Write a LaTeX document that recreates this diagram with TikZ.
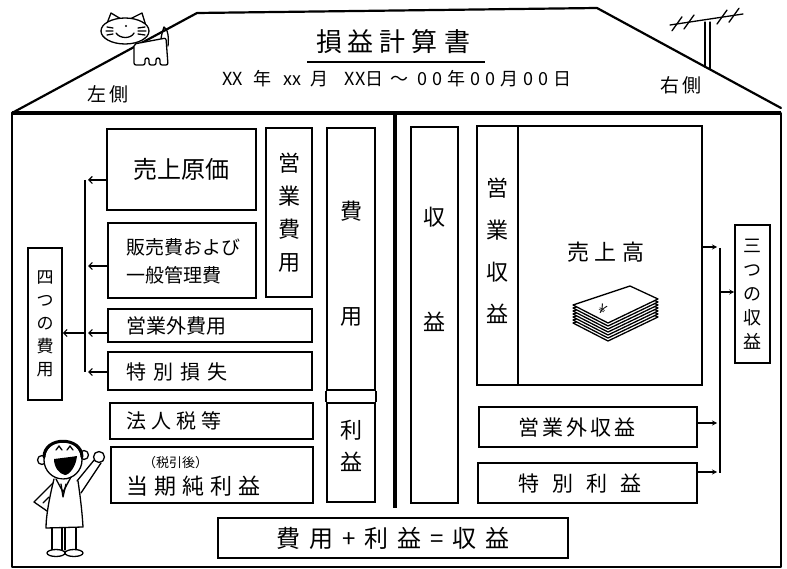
\documentclass[tikz,border=0pt]{standalone}
\usepackage{fontspec}
\newfontfamily\jp{Noto Sans CJK JP}
\usetikzlibrary{arrows.meta}

% spread the characters of a word apart by a fixed gap
\newlength{\chargap}
\newcommand{\spread}[2]{\setlength{\chargap}{#1}\spreadloop#2\relax}
\def\spreadloop#1#2{#1\ifx#2\relax\else\kern\chargap\relax\expandafter\spreadloop\fi#2}
\newcommand{\jfs}[2]{\fontsize{#1}{#2}\selectfont}

\begin{document}
\begin{tikzpicture}[x=1pt,y=-1pt,
  every node/.style={font=\jp, inner sep=0pt},
  box/.style={draw, line width=1.6pt},
  wall/.style={line width=2.2pt, line cap=round, line join=round},
  thin/.style={line width=1.3pt, line cap=round, line join=round},
  larr/.style={line width=1.2pt, -{Straight Barb[length=3.5pt,width=7pt]}},
  rarr/.style={line width=1.2pt, -{Stealth[length=5pt,width=5pt]}},
]
\useasboundingbox[fill=white] (0,0) rectangle (787,569);

% ---------- antenna ----------
\draw[thin] (705,22) -- (705,67);
\draw[thin] (710,22) -- (710,69);
\draw[thin] (670,25) -- (743,14);
\foreach \ax in {678,690,723,735}
  \draw[thin] ({\ax-6},{27-(\ax-670)*0.15+5}) -- ({\ax+4},{27-(\ax-670)*0.15-9});

% ---------- roof and walls ----------
\coordinate (roofL) at (12,113);
\coordinate (roofTL) at (197,13);
\coordinate (roofTR) at (597,8);
\coordinate (roofR) at (781,108);
\draw[wall] (roofL) -- (roofTL) -- (roofTR) -- (roofR);
\draw[wall] (12,113) rectangle (781,567);
\draw[line width=3.5pt] (12,113) -- (781,113);
\draw[line width=3.5pt] (395,113) -- (395,508);

% ---------- cat on the roof ----------
\begin{scope}[thin]
  \draw (160,45) .. controls (161,38) and (162,32) .. (164,27)
        .. controls (168,29) and (169,38) .. (168,46);
  \draw[fill=white, rounded corners=2pt] (134,44) -- (166,38) -- (168,65) -- (160,65)
        -- (160,58) -- (156,58) -- (156,65) -- (149,65) -- (149,58) -- (145,58)
        -- (145,65) -- (134,65) -- cycle;
  \draw[fill=white] (106,26) -- (111,13) -- (121,19);
  \draw[fill=white] (130,19) -- (142,13) -- (146,26);
  \draw[fill=white] (125,31) ellipse (24 and 13);
  \fill (126,26) circle (1.2);
  \draw (116,33) .. controls (120,39) and (131,39) .. (134,33);
  \draw (107,27) -- (113,28) (106,31) -- (113,31) (107,35) -- (113,34);
  \draw (138,28) -- (145,27) (138,31) -- (146,31) (138,34) -- (145,35);
\end{scope}

% ---------- heading ----------
\node (title) at (393,42) {\jfs{26}{26}\spread{6pt}{損益計算書}};
\draw[line width=1.4pt] (307,62) -- (485,62);
\node (date) at (397,79) {\jfs{18}{18}XX\kern10pt 年\kern12pt xx\kern10pt 月\kern16pt
  XX日\kern7pt ～\kern9pt \spread{5pt}{00年00月00日}};
\node (leftside) at (108,94) {\jfs{19}{19}\spread{4pt}{左側}};
\node (rightside) at (681,85) {\jfs{19}{19}\spread{4pt}{右側}};

% ---------- left half: expenses ----------
\node[box, minimum width=149, minimum height=81] (cogs) at (181.5,169.5)
  {\jfs{24}{24}売上原価};
\node[box, minimum width=148, minimum height=75] (sga) at (182,260.5) {};
\node[anchor=west, align=left, font={\jp\jfs{19}{28}}] (sgatext) at (126,261)
  {販売費および\\一般管理費};
\node[box, minimum width=204, minimum height=33] (nonop) at (210,325.5) {};
\node[anchor=west] (nonoptext) at (126,326) {\jfs{20}{20}営業外費用};
\node[box, minimum width=204, minimum height=38] (loss) at (210,371) {};
\node[anchor=west] (losstext) at (126,372) {\jfs{20}{20}\spread{7pt}{特別損失}};
\node[box, minimum width=203, minimum height=36] (tax) at (211.5,421) {};
\node[anchor=west] (taxtext) at (126,421) {\jfs{20}{20}\spread{5pt}{法人税等}};
\node[box, minimum width=202, minimum height=56] (ni) at (212,475) {};
\node[anchor=west] (nitext0) at (143,463) {\jfs{13}{13}（税引後）};
\node[anchor=west] (nitext) at (126,486) {\jfs{22}{22}\spread{6pt}{当期純利益}};

\node[box, minimum width=46, minimum height=169, align=center,
      font={\jp\jfs{22}{33}}] (opex) at (289,212.5) {営\\業\\費\\用};

\node[box, minimum width=48, minimum height=262] (expcol) at (351,259) {};
\node[box, minimum width=48, minimum height=99] (profcol) at (351,452.5) {};
\draw[box] (expcol.south west) -- (profcol.north west);
\draw[box] (expcol.south east) -- (profcol.north east);
\node (expc1) at (351,211) {\jfs{22}{22}費};
\node (expc2) at (351,317) {\jfs{22}{22}用};
\node[align=center, font={\jp\jfs{22}{32}}] (profc) at (351,446) {利\\益};

\node[box, minimum width=34, minimum height=152, align=center,
      font={\jp\jfs{17}{23}}] (four) at (45,324) {四\\つ\\の\\費\\用};

% bus line and arrows gathering the four expenses
\coordinate (busLT) at (85,180);
\coordinate (busLB) at (85,372);
\draw[line width=1.3pt] (busLT) -- (busLB);
\coordinate (a1) at (88,180);
\coordinate (a2) at (88,266);
\coordinate (a3) at (88,333);
\coordinate (a4) at (88,372);
\coordinate (a5) at (85,333);
\draw[larr] (cogs.west |- a1) -- (a1);
\draw[larr] (sga.west |- a2) -- (a2);
\draw[larr] (nonop.west |- a3) -- (a3);
\draw[larr] (loss.west |- a4) -- (a4);
\draw[larr] (a5) -- (four.east |- a5);

% ---------- right half: revenues ----------
\node[box, minimum width=47, minimum height=376] (rev) at (434.5,315) {};
\node (revc1) at (434,217) {\jfs{22}{22}収};
\node (revc2) at (434,322) {\jfs{22}{22}益};

\node[box, minimum width=41, minimum height=259] (oprev) at (497.5,255.5) {};
\node[align=center, font={\jp\jfs{22}{42}}] (oprevtext) at (497,251) {営\\業\\収\\益};
\node[box, minimum width=184, minimum height=259] (sales) at (610,255.5) {};
\node (salestext) at (606,252) {\jfs{22}{22}\spread{6pt}{売上高}};

% stack of banknotes
\foreach \k in {6,5,...,1}
  \draw[thin, fill=white] (573,{305+3*\k}) -- (630,{286+3*\k}) -- (658,{299+3*\k}) -- (608,{323+3*\k}) -- cycle;
\draw[thin, fill=white] (573,305) -- (630,286) -- (658,299) -- (608,323) -- cycle;
\node[rotate=-30] (yen) at (603,309) {\jfs{13}{13}¥};

\node[box, minimum width=218, minimum height=40] (nonoprev) at (588,427) {};
\node (nonoprevtext) at (577,428) {\jfs{21}{21}\spread{3pt}{営業外収益}};
\node[box, minimum width=219, minimum height=40] (special) at (587.5,483) {};
\node (specialtext) at (580,484) {\jfs{21}{21}\spread{13pt}{特別利益}};

\node[box, minimum width=35, minimum height=138, align=center,
      font={\jp\jfs{18}{24}}] (three) at (752.5,294) {三\\つ\\の\\収\\益};

% bus line and arrows gathering the three revenues
\coordinate (busRT) at (720,248);
\coordinate (busRB) at (720,473);
\draw[line width=1.3pt] (busRT) -- (busRB);
\coordinate (r1) at (717,247);
\coordinate (r2) at (720,292);
\coordinate (r3) at (717,423);
\coordinate (r4) at (717,472);
\draw[rarr] (sales.east |- r1) -- (r1);
\draw[rarr] (r2) -- (three.west |- r2);
\draw[rarr] (nonoprev.east |- r3) -- (r3);
\draw[rarr] (special.east |- r4) -- (r4);

% ---------- the equation ----------
\node[box, minimum width=350, minimum height=40] (eq) at (393,538)
  {\jfs{24}{24}\spread{9pt}{費用+利益=収益}};

% ---------- cheerful man ----------
\begin{scope}[thin]
  \draw[fill=white] (42,460) circle (4.5);
  \draw[fill=white] (84,455) circle (4.5);
  \draw[fill=white] (63,460) circle (19);
  \draw[line width=3pt] (44,457) .. controls (44,436) and (82,436) .. (82,457);
  \draw (56,450) -- (59,446) -- (62,450);
  \draw (67,450) -- (70,446) -- (73,450);
  \fill (54,459) .. controls (62,458) and (71,457) .. (77,456)
        .. controls (76,467) and (69,475) .. (65,475)
        .. controls (59,474) and (54,467) .. (54,459) -- cycle;
  \draw[fill=white] (54,479) .. controls (50,495) and (46,515) .. (46,528)
        -- (83,527) .. controls (82,510) and (80,495) .. (78,481);
  \draw (56,479) -- (63,492) -- (71,477);
  \draw (61,484) -- (63,497) -- (66,484);
  \draw (77,481) -- (95,459);
  \draw (81,493) -- (101,463);
  \draw[fill=white] (99,457) circle (5.5);
  \draw (53,483) -- (34,502) -- (47,511);
  \draw (49,497) -- (43,503);
  \draw (52,528) -- (52,550) (62,528) -- (62,550);
  \draw (65,528) -- (65,550) (76,528) -- (76,550);
  \draw[fill=white] (56,553) ellipse (9 and 3.5);
  \draw[fill=white] (74,553) ellipse (9 and 3.5);
\end{scope}
\end{tikzpicture}
\end{document}
